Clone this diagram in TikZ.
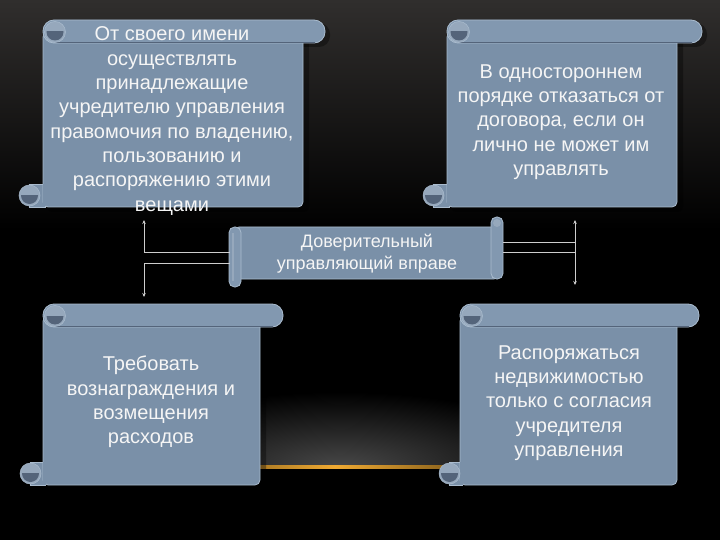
\documentclass[tikz,border=0pt]{standalone}
\usepackage{fontspec}
\setmainfont{Liberation Sans}
\usetikzlibrary{arrows.meta,calc}
\definecolor{scrollfill}{RGB}{122,144,168}
\definecolor{scrolledge}{RGB}{170,188,206}
\definecolor{scrolldark}{RGB}{84,100,122}
\definecolor{rollfill}{RGB}{130,152,176}
\definecolor{curllight}{RGB}{150,168,188}
\definecolor{connc}{RGB}{205,205,205}
\definecolor{glowc}{RGB}{240,170,50}
\definecolor{toptone}{RGB}{48,46,45}
\definecolor{hazec}{RGB}{72,72,72}
\definecolor{txtc}{RGB}{245,245,245}

\newcommand\scrollcurl[2]{%
  \fill[curllight] (#1,#2) circle (10.5);
  \begin{scope}
    \clip (#1-12,#2) rectangle (#1+12,#2+12);
    \fill[scrolldark] (#1,#2) circle (8.5);
  \end{scope}
  \draw[scrolledge,line width=0.5pt] (#1,#2) circle (10.5);
}
% L R T B RR BL
\newcommand\vscroll[6]{%
  \fill[black,opacity=0.35,rounded corners=6] (#1+4,#3+8) rectangle (#2+6,#4+5);
  \fill[black,opacity=0.35,rounded corners=11] (#1+4,#3+3) rectangle (#5+5,#3+27);
  \fill[scrollfill,draw=scrolledge,line width=0.8pt] (#6+11,#4-23) rectangle (#1+2,#4);
  \fill[scrollfill,draw=scrolledge,line width=0.8pt,rounded corners=5] (#1,#3+12) rectangle (#2,#4);
  \fill[scrollfill] (#1-0.5,#4-22.6) rectangle (#1+3,#4-0.5);
  \scrollcurl{#6+11.5}{#4-11.5}
  \fill[rollfill,draw=scrolledge,line width=0.8pt,rounded corners=11] (#1,#3) rectangle (#5,#3+23);
  \draw[scrolldark,line width=0.9pt] (#1+12,#3+22) -- (#5-10,#3+22);
  \scrollcurl{#1+12}{#3+12}
}

\begin{document}
\begin{tikzpicture}[x=1pt,y=-1pt,
  txt/.style={text=txtc,align=center,font=\fontsize{20}{24.3}\selectfont,inner sep=0pt},
  midtxt/.style={text=txtc,align=center,font=\fontsize{18}{22}\selectfont,inner sep=0pt},
  connline/.style={draw=connc,line width=0.7pt},
  conn/.style={connline,-{Stealth[length=4pt,width=3.5pt]}}]
\useasboundingbox (0,0) rectangle (720,540);
% background
\fill[black] (0,0) rectangle (720,540);
\shade[top color=toptone,bottom color=black] (0,0) rectangle (720,230);
\begin{scope}
  \clip (0,380) rectangle (720,467);
  \shade[inner color=hazec,outer color=black] (340,467) ellipse [x radius=240pt,y radius=75pt];
\end{scope}
\shade[left color=black,right color=black,middle color=glowc] (60,465.5) rectangle (610,468.5);

% scrolls
\vscroll{43}{303}{20}{207}{325}{18}
\vscroll{447}{677}{20}{207}{702}{422}
\vscroll{43}{260}{304}{485}{283}{19}
\vscroll{460}{677}{304}{485}{699}{438}

% center horizontal scroll
\fill[black,opacity=0.35,rounded corners=5] (234,231) rectangle (507,290);
\fill[scrollfill,draw=scrolledge,line width=0.8pt,rounded corners=3] (236,227) rectangle (497,279);
\fill[rollfill,draw=scrolledge,line width=0.8pt,rounded corners=5.5] (491,217) rectangle (503,279);
\fill[curllight] (497,223) circle (4);
\fill[rollfill,draw=scrolledge,line width=0.8pt,rounded corners=5.5] (229,227) rectangle (241,287);
\draw[curllight,line width=1.2pt] (233,233) -- (233,281);

% texts
\node[txt] (tl) at (172,121) {От своего имени\\осуществлять\\принадлежащие\\учредителю управления\\правомочия по владению,\\пользованию и\\распоряжению этими\\вещами};
\node[txt] (tr) at (561,122) {В одностороннем\\порядке отказаться от\\договора, если он\\лично не может им\\управлять};
\node[midtxt] (mid) at (367,254) {Доверительный\\управляющий вправе};
\node[txt] (bl) at (151,402) {Требовать\\вознаграждения и\\возмещения\\расходов};
\node[txt] (br) at (569,403) {Распоряжаться\\недвижимостью\\только с согласия\\учредителя\\управления};

% connectors
\coordinate (lup) at (144,220);
\coordinate (ldn) at (144,297);
\coordinate (l1) at (230,252);
\coordinate (l2) at (230,263);
\coordinate (rup) at (575,220);
\coordinate (rdn) at (575,285);
\coordinate (r1) at (503,242);
\coordinate (r2) at (503,252);
\coordinate (rj1) at (575,242);
\coordinate (rj2) at (575,252);
\draw[conn] (l1) -| (lup);
\draw[conn] (l2) -| (ldn);
\draw[conn] (r1) -| (rup);
\draw[conn] (r2) -| (rdn);
\draw[connline] (rj1) -- (rj2);
\end{tikzpicture}
\end{document}
